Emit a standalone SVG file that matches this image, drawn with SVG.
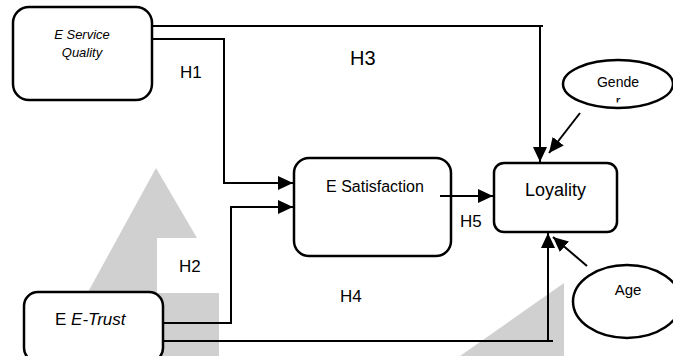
<svg xmlns="http://www.w3.org/2000/svg" width="673" height="356" viewBox="0 0 673 356">
  <defs>
    <style>
      .node { fill: #fff; stroke: #000; stroke-width: 2.5; }
      .wire { fill: none; stroke: #000; stroke-width: 2; }
      .arrow { marker-end: url(#head); }
      text { font-family: "Liberation Sans", Arial, sans-serif; fill: #000; }
      .lbl { font-size: 17px; }
      .it { font-style: italic; }
      .wm { fill: #d0d0d0; }
    </style>
    <marker id="head" markerUnits="userSpaceOnUse" markerWidth="16" markerHeight="14" refX="15" refY="7" orient="auto">
      <path d="M0,0 L15,7 L0,14 Z" fill="#000"/>
    </marker>
    <clipPath id="cut-r">
      <rect x="600" y="90" width="40" height="12.5"/>
    </clipPath>
  </defs>

  <rect width="673" height="356" fill="#fff"/>

  <!-- background watermark shapes -->
  <g id="watermark">
    <polygon class="wm" points="156,168 197,238 157,238 157,293 219,293 219,356 53,356"/>
    <polygon class="wm" points="564,283 564,356 460,356"/>
  </g>

  <!-- nodes -->
  <g id="service-quality">
    <rect class="node" x="13" y="7" width="139" height="93" rx="16"/>
    <text class="it" x="82" y="38.5" font-size="13" text-anchor="middle">E Service</text>
    <text class="it" x="82" y="56.5" font-size="13" text-anchor="middle">Quality</text>
  </g>
  <g id="satisfaction">
    <rect class="node" x="294" y="158" width="157" height="98" rx="15"/>
    <text x="375" y="192" font-size="16" text-anchor="middle">E Satisfaction</text>
  </g>
  <g id="loyality">
    <rect class="node" x="494" y="163" width="123" height="69" rx="10"/>
    <text x="555.5" y="196" font-size="18" text-anchor="middle">Loyality</text>
  </g>
  <g id="trust">
    <rect class="node" x="24" y="292" width="139" height="70" rx="14"/>
    <text x="55" y="325" font-size="17">E <tspan class="it">E-Trust</tspan></text>
  </g>
  <g id="gender">
    <ellipse class="node" cx="618" cy="84" rx="55" ry="24"/>
    <text x="618" y="87" font-size="14" text-anchor="middle">Gende</text>
    <text x="618" y="106" font-size="14" text-anchor="middle" clip-path="url(#cut-r)">r</text>
  </g>
  <g id="age">
    <ellipse class="node" cx="627" cy="301.5" rx="54" ry="36.5"/>
    <text x="628" y="295" font-size="15" text-anchor="middle">Age</text>
  </g>

  <!-- connectors -->
  <g id="connectors">
    <path class="wire arrow" d="M152,26 H543 M540,26 V162"/>
    <path class="wire arrow" d="M152,39 H224 V183 H293"/>
    <path class="wire arrow" d="M163,323 H231 V207 H293"/>
    <path class="wire arrow" d="M163,341 H553 M548,341 V233"/>
    <path class="wire arrow" d="M440,196 H493"/>
    <path class="wire arrow" d="M580,113 L549,153"/>
    <path class="wire arrow" d="M587,266 L553,237"/>
  </g>

  <!-- hypothesis labels -->
  <g id="labels">
    <text class="lbl" x="180" y="78">H1</text>
    <text x="350" y="65" font-size="20">H3</text>
    <text class="lbl" x="179" y="272">H2</text>
    <text class="lbl" x="340" y="302">H4</text>
    <text class="lbl" x="460" y="227">H5</text>
  </g>
</svg>
